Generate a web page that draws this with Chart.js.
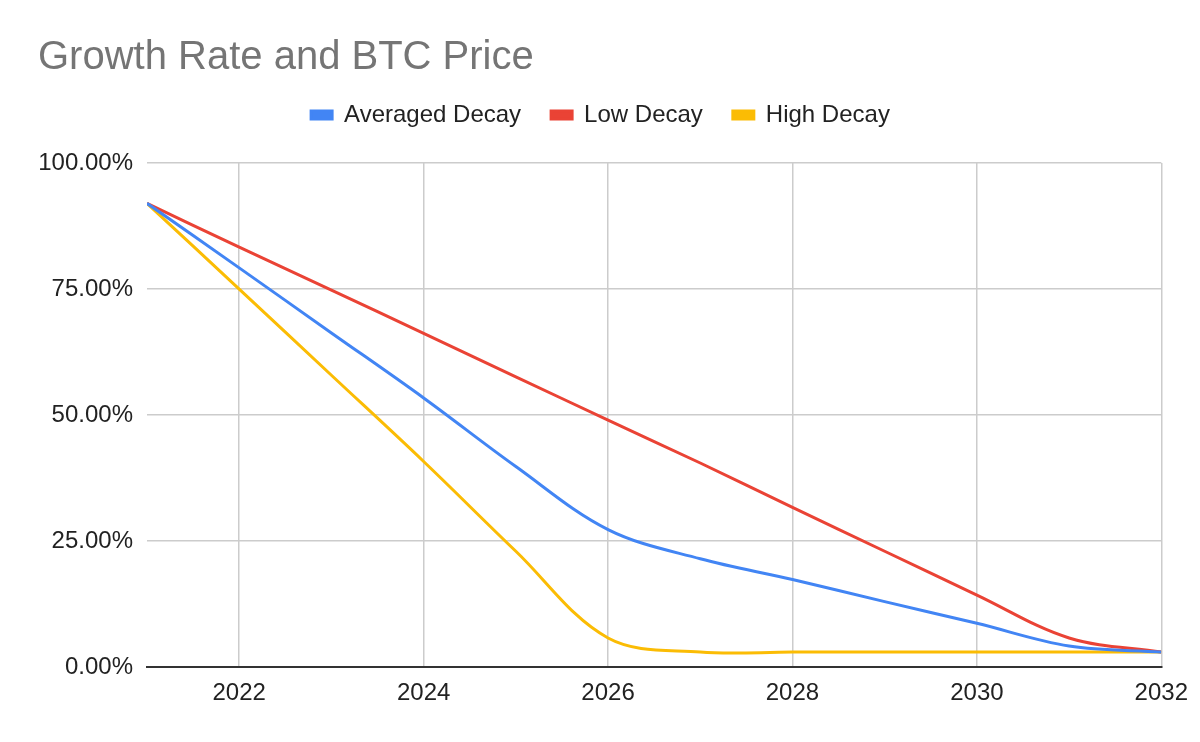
<!DOCTYPE html>
<html>
<head>
<meta charset="utf-8">
<script src="https://cdn.jsdelivr.net/npm/chart.js@4/dist/chart.umd.min.js"></script>
<style>
  html, body { margin: 0; padding: 0; background: #fff; }
  #wrap { width: 1200px; height: 742px; }
</style>
</head>
<body>
<div id="wrap"><canvas id="chart"></canvas></div>
<script>
const years = [2021, 2022, 2023, 2024, 2025, 2026, 2027, 2028, 2029, 2030, 2031, 2032];
const averagedDecay = [92, 79.2, 66.3, 53.4, 39.8, 27.3, 21.5, 17.4, 13, 8.7, 4.2, 3];
const lowDecay = [92, 83.3, 74.8, 66.2, 57.6, 49, 40.5, 31.7, 23, 14.3, 5.8, 3];
const highDecay = [92, 75, 57.9, 40.8, 23, 5.8, 3, 3, 3, 3, 3, 3];
const xTicks = [2022, 2024, 2026, 2028, 2030, 2032];

const font = 'Arial, "Liberation Sans", sans-serif';

function series(label, values, color) {
  return {
    label,
    data: years.map((year, i) => ({ x: year, y: values[i] })),
    borderColor: color,
    backgroundColor: color,
    borderWidth: 3,
    pointRadius: 0,
    tension: 0.35,
    fill: false
  };
}

// extra room between the legend and the plot
const legendGap = {
  id: 'legendGap',
  beforeInit(chart) {
    const fit = chart.legend.fit;
    chart.legend.fit = function() {
      fit.bind(chart.legend)();
      this.height += 26;
    };
  }
};

new Chart(document.getElementById('chart'), {
  type: 'line',
  data: {
    datasets: [
      series('Averaged Decay', averagedDecay, '#4285f4'),
      series('Low Decay', lowDecay, '#ea4335'),
      series('High Decay', highDecay, '#fbbc04')
    ]
  },
  plugins: [legendGap],
  options: {
    responsive: true,
    maintainAspectRatio: false,
    animation: false,
    layout: { padding: { left: 38, right: 37, top: 10, bottom: 22 } },
    plugins: {
      title: {
        display: true,
        text: 'Growth Rate and BTC Price',
        align: 'start',
        color: '#757575',
        font: { family: font, size: 40, weight: 'normal' },
        padding: { top: 24, bottom: -9 }
      },
      legend: {
        position: 'top',
        labels: {
          color: '#222',
          font: { family: font, size: 24 },
          boxWidth: 21,
          boxHeight: 8,
          padding: 30
        }
      },
      tooltip: { enabled: false }
    },
    scales: {
      x: {
        type: 'linear',
        min: 2021,
        max: 2032,
        afterBuildTicks(scale) {
          scale.ticks = xTicks.map((v) => ({ value: v }));
        },
        ticks: {
          color: '#222',
          font: { family: font, size: 24 },
          padding: 12,
          callback(value) { return String(value); }
        },
        grid: { color: '#cccccc', lineWidth: 1.5, drawTicks: false },
        border: { display: true, color: '#333', width: 2 }
      },
      y: {
        min: 0,
        max: 100,
        afterFit(scale) { scale.width = 109; },
        ticks: {
          stepSize: 25,
          color: '#222',
          font: { family: font, size: 24 },
          padding: 14,
          callback(value) { return value.toFixed(2) + '%'; }
        },
        grid: { color: '#cccccc', lineWidth: 1.5, drawTicks: false },
        border: { display: false }
      }
    }
  }
});
</script>
</body>
</html>
